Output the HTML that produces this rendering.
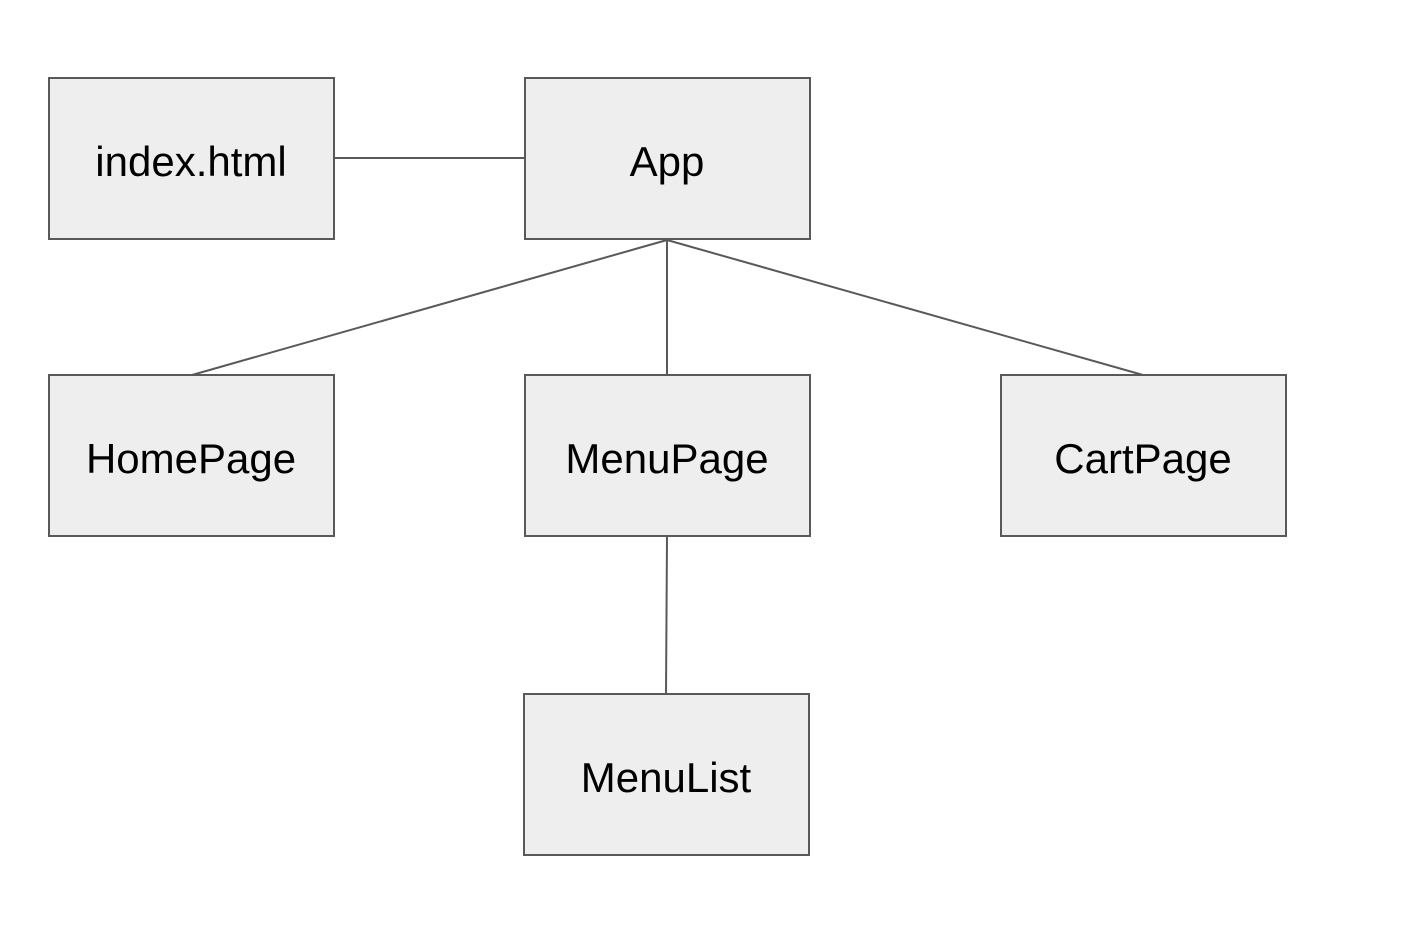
<!DOCTYPE html>
<html><head><meta charset="utf-8"><style>
html,body{margin:0;padding:0;background:#fff;}
svg{display:block;}
text{font-family:"Liberation Sans",Arial,sans-serif;font-size:42px;fill:#000;}
</style></head><body>
<svg width="1418" height="946" viewBox="0 0 1418 946" xmlns="http://www.w3.org/2000/svg">
<g stroke="#595959" stroke-width="2" fill="none">
<line x1="335" y1="158" x2="525" y2="158"/>
<line x1="667" y1="240" x2="192" y2="375"/>
<line x1="667" y1="240" x2="667" y2="375"/>
<line x1="667" y1="240" x2="1143" y2="375"/>
<line x1="667" y1="537" x2="666" y2="694"/>
</g>
<g stroke="#595959" stroke-width="2" fill="#eeeeee">
<rect x="49" y="78" width="285" height="161"/>
<rect x="525" y="78" width="285" height="161"/>
<rect x="49" y="375" width="285" height="161"/>
<rect x="525" y="375" width="285" height="161"/>
<rect x="1001" y="375" width="285" height="161"/>
<rect x="524" y="694" width="285" height="161"/>
</g>
<g text-anchor="middle">
<text x="191" y="176">index.html</text>
<text x="667" y="176">App</text>
<text x="191" y="473">HomePage</text>
<text x="667" y="473">MenuPage</text>
<text x="1143" y="473">CartPage</text>
<text x="666" y="792">MenuList</text>
</g>
</svg>
</body></html>
